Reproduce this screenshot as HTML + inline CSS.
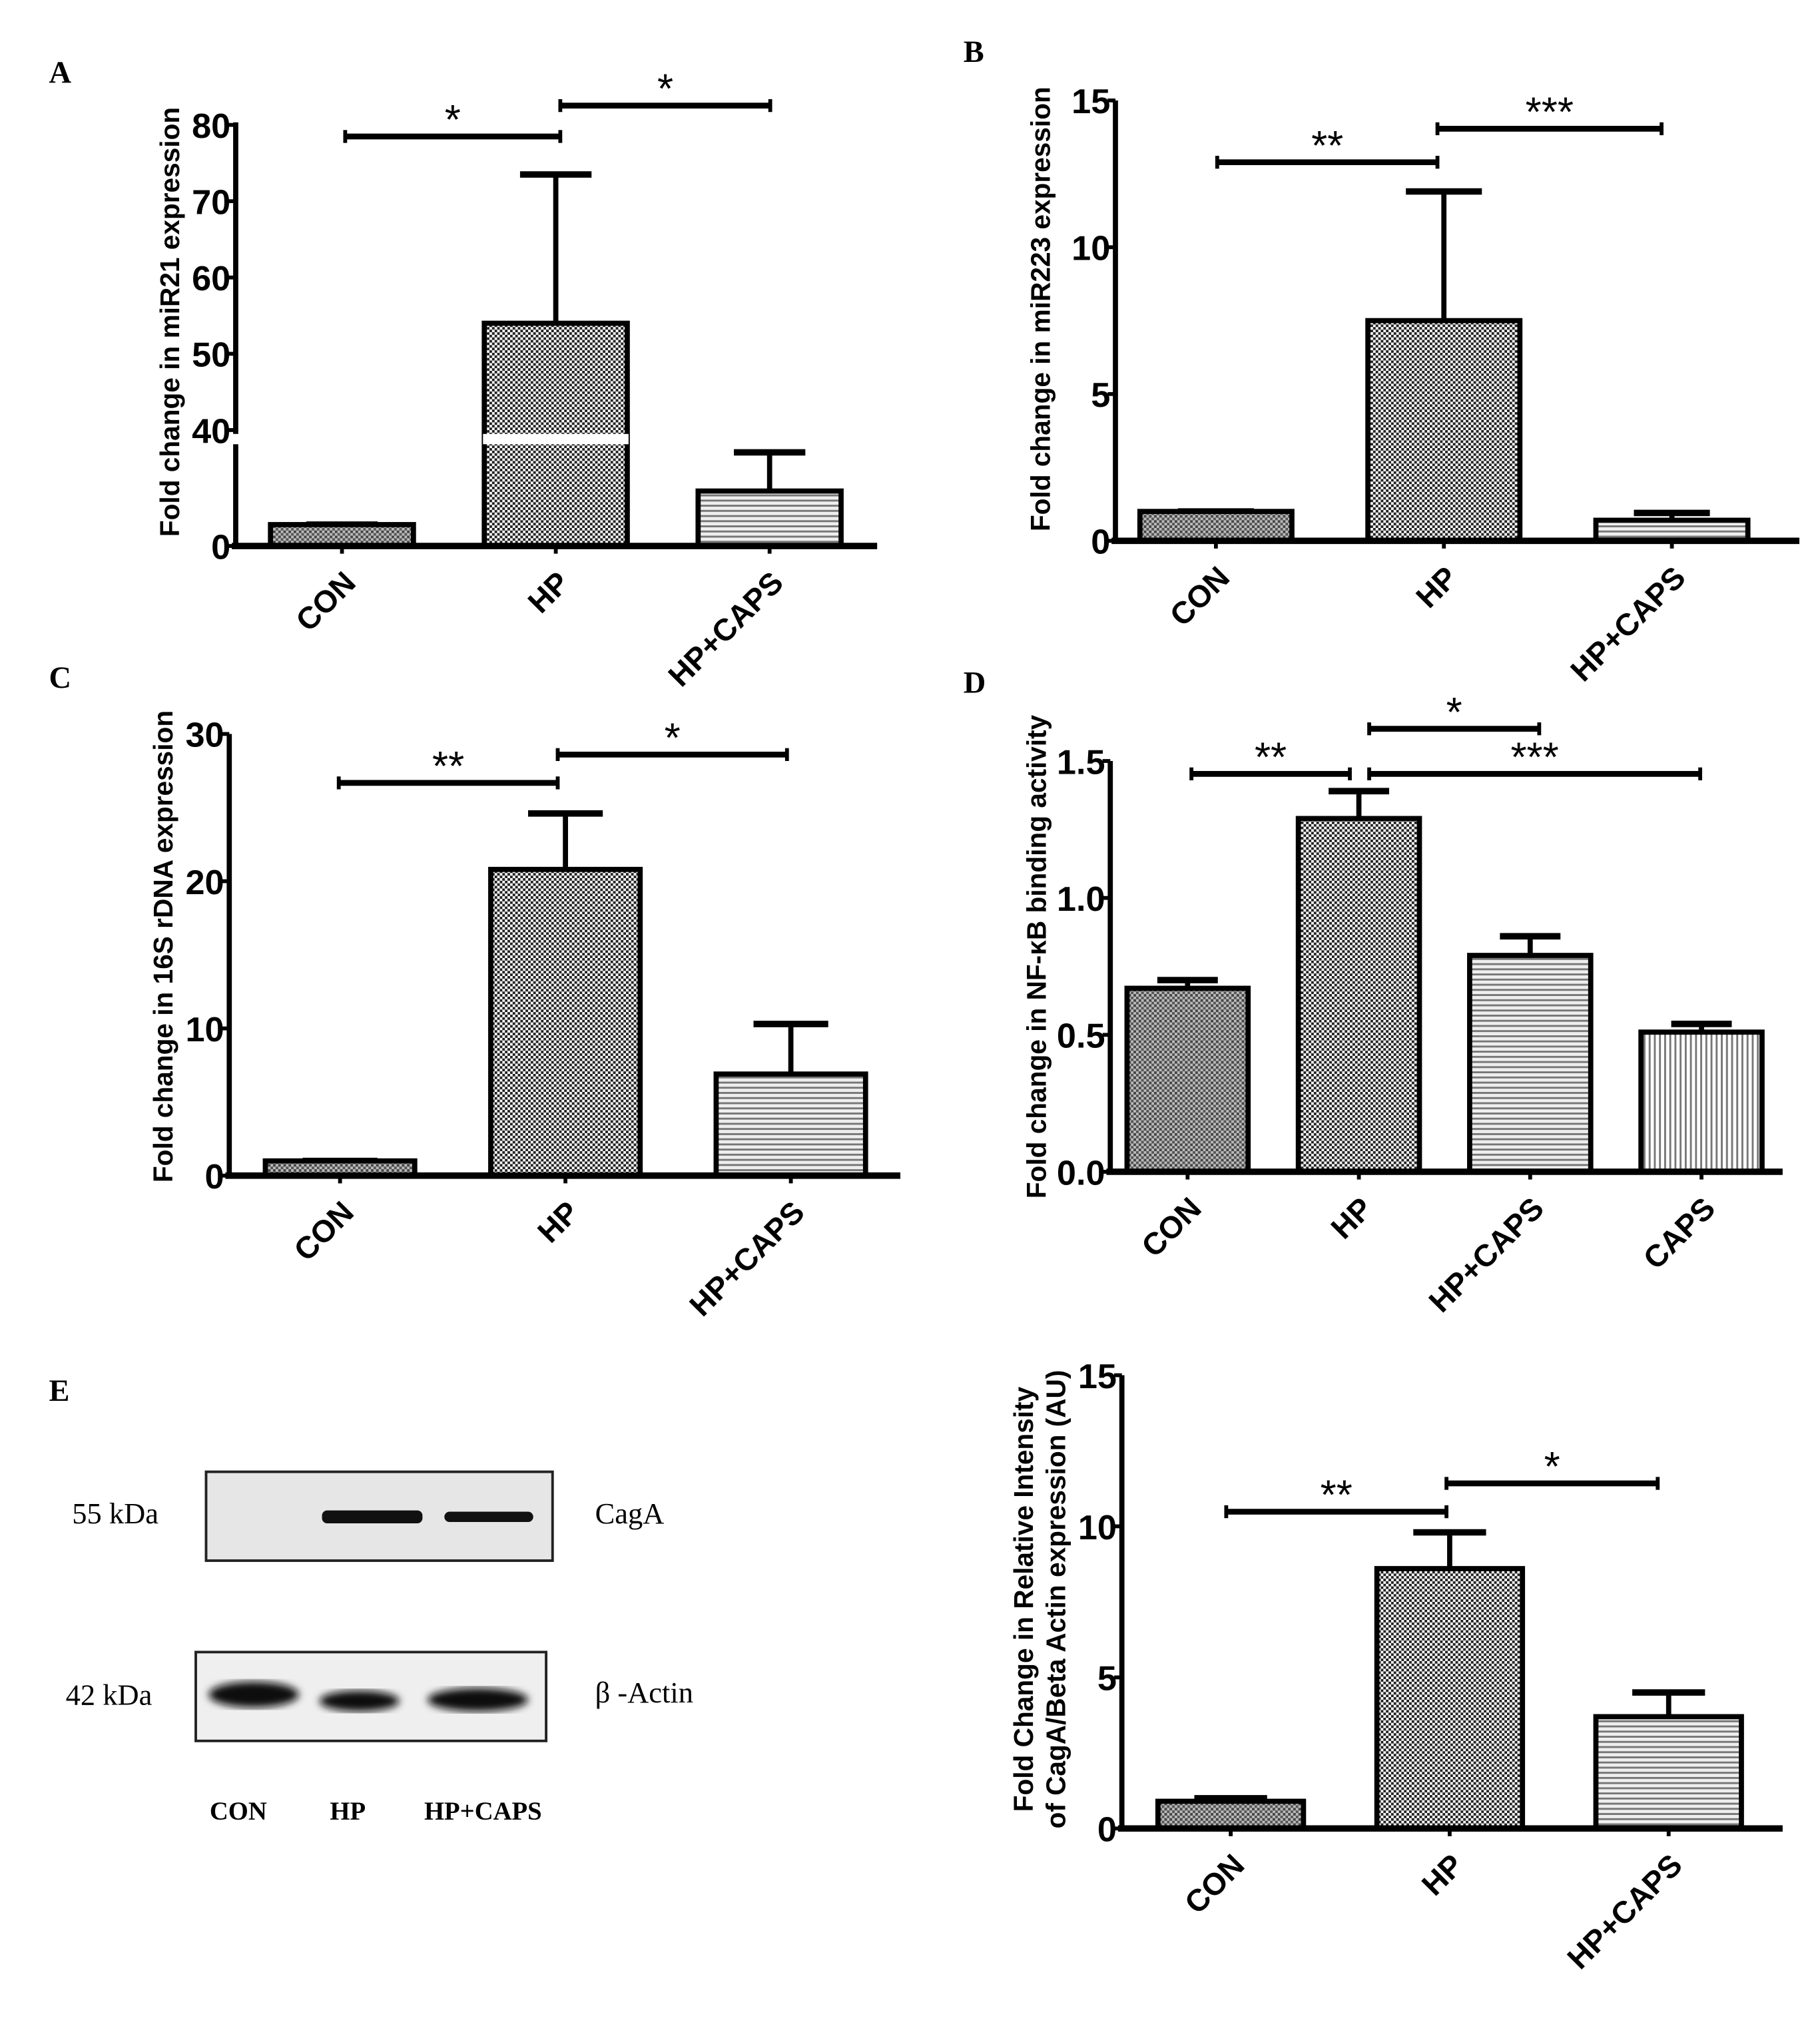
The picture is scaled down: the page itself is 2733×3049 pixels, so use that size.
<!DOCTYPE html>
<html><head><meta charset="utf-8">
<style>
html,body{margin:0;padding:0;background:#fff;}
svg{display:block;}
.tick{font-family:"Liberation Sans Narrow","Liberation Sans",sans-serif;font-weight:bold;font-size:27px;}
.ytitle{font-family:"Liberation Sans",sans-serif;font-weight:bold;font-size:21px;}
.xlab{font-family:"Liberation Sans",sans-serif;font-weight:bold;font-size:24px;}
.star{font-family:"Liberation Sans",sans-serif;font-size:32px;}
.serif{font-family:"Liberation Serif",serif;}
</style></head>
<body>
<svg id="fig" width="2733" height="3049" viewBox="0 0 1413 1576.5" preserveAspectRatio="none" xmlns="http://www.w3.org/2000/svg">
<defs>
<pattern id="pCheck" width="4" height="4" patternUnits="userSpaceOnUse"><rect width="4" height="4" fill="#fff"/><rect width="2" height="2" fill="#222"/><rect x="2" y="2" width="2" height="2" fill="#222"/></pattern>
<pattern id="pCon" width="4" height="4" patternUnits="userSpaceOnUse"><rect width="4" height="4" fill="#bbb"/><rect width="2" height="2" fill="#444"/><rect x="2" y="2" width="2" height="2" fill="#555"/></pattern>
<pattern id="pHoriz" width="4" height="4" patternUnits="userSpaceOnUse"><rect width="4" height="4" fill="#eee"/><rect width="4" height="1.5" fill="#777"/></pattern>
<pattern id="pVert" width="4" height="4" patternUnits="userSpaceOnUse"><rect width="4" height="4" fill="#fff"/><rect width="1.5" height="4" fill="#777"/></pattern>
<filter id="blur"><feGaussianBlur stdDeviation="3"/></filter>
</defs>
<g id="root"></g>
</svg>
<script>
// Panel A data
const catsA = ["CON","HP","HP+CAPS"];
const valsA = [2.1, 54, 5.4];
const errA = [2.1, 73.5, 9.2];
// Panel B data
const catsB = ["CON","HP","HP+CAPS"];
const valsB = [1.0, 7.5, 0.7];
const errB = [1.0, 11.9, 0.95];
const ticksB = [0,5,10,15];
// Panel C data
const catsC = ["CON","HP","HP+CAPS"];
const valsC = [1.0, 20.8, 6.9];
const errC = [1.0, 24.6, 10.3];
const ticksC = [0,10,20,30];
// Panel D data
const catsD = ["CON","HP","HP+CAPS","CAPS"];
const valsD = [0.67, 1.29, 0.79, 0.51];
const errD = [0.70, 1.39, 0.86, 0.54];
const ticksD = ["0.0","0.5","1.0","1.5"];
// Panel E data
const catsE = ["CON","HP","HP+CAPS"];
const valsE = [0.9, 8.6, 3.7];
const errE = [1.0, 9.8, 4.5];
const ticksE = [0,5,10,15];

const NS="http://www.w3.org/2000/svg";
const root=document.getElementById('root');
function mk(tag,attrs,parent,text){const e=document.createElementNS(NS,tag);for(const k in attrs)e.setAttribute(k,attrs[k]);if(text!==undefined)e.textContent=text;(parent||root).appendChild(e);return e;}
const fills={"CON":"url(#pCon)","HP":"url(#pCheck)","HP+CAPS":"url(#pHoriz)","CAPS":"url(#pVert)"};

function chart(cfg){
  const g=mk('g',{});
  
  
  const yS=cfg.yScale;
  cfg.cats.forEach((c,i)=>{
    const x0=cfg.x0+cfg.bandStart+i*cfg.step, w=cfg.barW, cx=x0+w/2;
    const yt=yS(cfg.vals[i]), ye=yS(cfg.errs[i]);
    const el=mk('line',{x1:cx,y1:yt,x2:cx,y2:ye,stroke:'#000','stroke-width':4},g);
    
    
    const cap=mk('line',{x1:cx-w*0.25,y1:ye,x2:cx+w*0.25,y2:ye,stroke:'#000','stroke-width':5},g);
    
    
    const r=mk('rect',{x:x0,y:yt,width:w,height:cfg.y0-yt,fill:fills[c],stroke:'#000','stroke-width':4},g);
    
    
    if(cfg.breakY){const b=mk('rect',{x:x0-1,y:cfg.breakY[0],width:w+2,height:cfg.breakY[1]-cfg.breakY[0],fill:'#fff'},g);}
    mk('line',{x1:cx,y1:cfg.y0,x2:cx,y2:cfg.y0+6,stroke:'#000','stroke-width':3},g);
    const t=mk('text',{class:'xlab','text-anchor':'end',transform:`translate(${cx+12},${cfg.y0+30}) rotate(-45)`},g,c);
    
    
  });
  const xa=mk('line',{x1:cfg.x0-3,y1:cfg.y0,x2:cfg.xEnd,y2:cfg.y0,stroke:'#000','stroke-width':5},g);
  
  
  if(cfg.breakY){
    mk('line',{x1:cfg.x0,y1:cfg.y0,x2:cfg.x0,y2:cfg.breakY[1],stroke:'#000','stroke-width':4},g);
    mk('line',{x1:cfg.x0,y1:cfg.breakY[0],x2:cfg.x0,y2:cfg.yTop,stroke:'#000','stroke-width':4},g);
  } else {
    const ya=mk('line',{x1:cfg.x0,y1:cfg.y0,x2:cfg.x0,y2:cfg.yTop,stroke:'#000','stroke-width':4},g);
    
    
  }
  cfg.ticks.forEach(tk=>{
    const y=yS(parseFloat(tk));
    mk('line',{x1:cfg.x0-6,y1:y,x2:cfg.x0,y2:y,stroke:'#000','stroke-width':3},g);
    const t=mk('text',{class:'tick','text-anchor':'end',x:cfg.x0-4,y:y+10},g,tk);
    
    
  });
  cfg.title.forEach((ln,k)=>{
    const tx=cfg.titleX+k*25;
    const t=mk('text',{class:'ytitle','text-anchor':'middle',transform:`translate(${tx},${cfg.titleY}) rotate(-90)`},g,ln);
    
    
  });
  cfg.sig.forEach(s=>{
    const l=mk('line',{x1:s[0],y1:s[2],x2:s[1],y2:s[2],stroke:'#000','stroke-width':4.5},g);
    
    
    mk('line',{x1:s[0],y1:s[2]-5,x2:s[0],y2:s[2]+5,stroke:'#000','stroke-width':3},g);
    mk('line',{x1:s[1],y1:s[2]-5,x2:s[1],y2:s[2]+5,stroke:'#000','stroke-width':3},g);
    const t=mk('text',{class:'star','text-anchor':'middle',x:(s[0]+s[1])/2,y:s[2]-2},g,s[3]);
    
    
  });
  const L=mk('text',{class:'serif','font-weight':'bold','font-size':24,x:cfg.label[1],y:cfg.label[2]},g,cfg.label[0]);
  
  
}
function lin(min,max,y0,yTop){return v=>y0-(v-min)/(max-min)*(y0-yTop);}

const yA=v=> v<=10 ? 424-(v/10)*79 : 334-(v-40)/40*237;
chart({name:'panel-a-mir21',cats:catsA,vals:valsA,errs:errA,yScale:yA,x0:183,y0:424,yTop:95,xEnd:681,bandStart:27,step:166,barW:111,
  ticks:["0","40","50","60","70","80"],breakY:[337,345],title:["Fold change in miR21 expression"],titleX:139,titleY:250,
  sig:[[268,435,106,"*"],[435,598,82,"*"]],label:["A",38,64]});
chart({name:'panel-b-mir223',cats:catsB,vals:valsB,errs:errB,yScale:lin(0,15,420,78),x0:866,y0:420,yTop:78,xEnd:1397,bandStart:19,step:177,barW:118,
  ticks:ticksB.map(String),title:["Fold change in miR223 expression"],titleX:815,titleY:240,
  sig:[[945,1116,126,"**"],[1116,1290,100,"***"]],label:["B",748,48]});
chart({name:'panel-c-16s-rdna',cats:catsC,vals:valsC,errs:errC,yScale:lin(0,30,913,570),x0:178,y0:913,yTop:570,xEnd:699,bandStart:28,step:175,barW:116,
  ticks:ticksC.map(String),title:["Fold change in 16S rDNA expression"],titleX:134,titleY:735,
  sig:[[263,433,608,"**"],[433,611,586,"*"]],label:["C",38,534]});
chart({name:'panel-d-nfkb',cats:catsD,vals:valsD,errs:errD,yScale:lin(0,1.5,910,591),x0:862,y0:910,yTop:591,xEnd:1384,bandStart:13,step:133,barW:94,
  ticks:ticksD,title:["Fold change in NF-κB binding activity"],titleX:812,titleY:743,
  sig:[[925,1048,601,"**"],[1063,1195,566,"*"],[1063,1320,601,"***"]],label:["D",748,538]});
chart({name:'panel-e-caga-quant',cats:catsE,vals:valsE,errs:errE,yScale:lin(0,15,1420,1068),x0:871,y0:1420,yTop:1068,xEnd:1384,bandStart:28,step:170,barW:113,
  ticks:ticksE.map(String),title:["Fold Change in Relative Intensity","of CagA/Beta Actin expression (AU)"],titleX:802,titleY:1242,
  sig:[[952,1123,1174,"**"],[1123,1287,1152,"*"]],label:["E",38,1088]});

const wb=mk('g',{});


mk('rect',{x:160,y:1143,width:269,height:69,fill:'#e6e6e6',stroke:'#222','stroke-width':2},wb);
mk('rect',{x:152,y:1283,width:272,height:69,fill:'#efefef',stroke:'#222','stroke-width':2},wb);
[[250,328,5],[345,414,4]].forEach(b=>{const e=mk('rect',{x:b[0],y:1178-b[2],width:b[1]-b[0],height:b[2]*2,rx:4,fill:'#111'},wb);});
[[162,232,1316,10],[248,310,1321,8],[332,410,1320,9]].forEach(b=>{const e=mk('ellipse',{cx:(b[0]+b[1])/2,cy:b[2],rx:(b[1]-b[0])/2,ry:b[3],fill:'#111',filter:'url(#blur)'},wb);});
const wbt=[["55 kDa",56,1183],["42 kDa",51,1324],["CagA",462,1183],["β -Actin",462,1322]];
wbt.forEach(t=>{const e=mk('text',{class:'serif','font-size':23,x:t[1],y:t[2]},wb,t[0]);});
[["CON",185],["HP",270],["HP+CAPS",375]].forEach(t=>{const e=mk('text',{class:'serif','font-size':20,'font-weight':'bold','text-anchor':'middle',x:t[1],y:1413},wb,t[0]);});
</script>
</body></html>
